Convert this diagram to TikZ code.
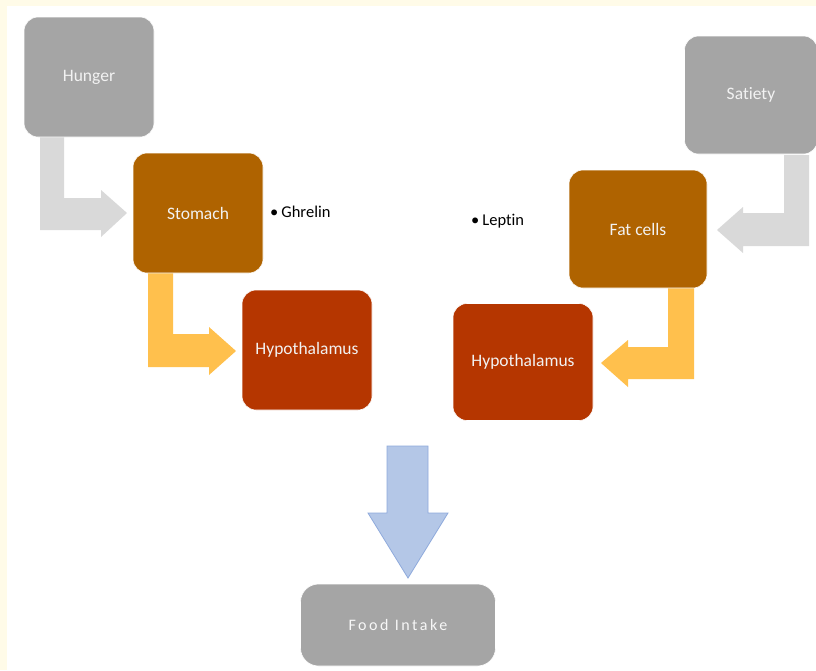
\documentclass[tikz,border=0pt]{standalone}
\usepackage{fontspec}
\setmainfont{Carlito}[Ligatures=NoCommon]
\usetikzlibrary{calc}
\definecolor{cream}{RGB}{255,251,232}
\definecolor{boxgray}{RGB}{165,165,165}
\definecolor{boxbrown}{RGB}{175,99,0}
\definecolor{boxrust}{RGB}{181,54,0}
\definecolor{arrgray}{RGB}{217,217,217}
\definecolor{arryellow}{RGB}{255,192,77}
\definecolor{arrblue}{RGB}{180,199,231}
\definecolor{arrblueedge}{RGB}{143,170,220}
\tikzset{
  stagebox/.style={rectangle, rounded corners=14, draw=white, line width=0.6,
    minimum width=130, minimum height=120, text=white!95!black,
    font=\fontsize{17.5}{20}\selectfont},
  hormone/.style={anchor=west, inner sep=0, text=black,
    font=\fontsize{16.5}{19}\selectfont}
}

\begin{document}
\begin{tikzpicture}[x=1pt,y=-1pt]
    \useasboundingbox (0,0) rectangle (816,670);
    \fill[cream] (0,0) rectangle (816,670);
    \fill[white] (7,6) rectangle (816,670);

    \fill[arrgray] (40,137) -- (64,137) -- (64,198) -- (101,198) -- (101,190) -- (127,213)
        -- (101,237) -- (101,230) -- (40,230) -- cycle;
    \fill[arryellow] (148,273) -- (173,273) -- (173,334) -- (209,334) -- (209,327) -- (236,351)
        -- (209,375) -- (209,367) -- (148,367) -- cycle;
    \fill[arrgray] (784,155) -- (809,155) -- (809,246) -- (743,246) -- (743,253) -- (717,230)
        -- (743,207) -- (743,213) -- (784,213) -- cycle;
    \fill[arryellow] (668,288) -- (694,288) -- (694,379) -- (628,379) -- (628,387) -- (601,363)
        -- (628,340) -- (628,347) -- (668,347) -- cycle;
    \filldraw[fill=arrblue, draw=arrblueedge, line width=0.8] (387,446) -- (428,446) -- (428,513)
        -- (448,513) -- (408,578) -- (368,513) -- (387,513) -- cycle;

    \node[stagebox, fill=boxgray] (hunger) at (89,77) {Hunger};
    \node[stagebox, fill=boxbrown] (stomach) at (198,213) {Stomach};
    \node[stagebox, fill=boxrust] (hypoleft) at (307,350) {Hypothalamus};
    \node[stagebox, fill=boxgray, minimum width=133, minimum height=118] (satiety) at (751,95) {Satiety};
    \node[stagebox, fill=boxbrown, minimum width=138, minimum height=118] (fatcells) at (638,229) {Fat cells};
    \node[stagebox, fill=boxrust, minimum width=140, minimum height=117] (hyporight) at (523,362) {Hypothalamus};
    \node[stagebox, fill=boxgray, rounded corners=18, minimum width=195, minimum height=82,
        text=white!97!black, font=\fontsize{16}{19}\selectfont\addfontfeature{LetterSpace=16}]
        (food) at (398,625) {Food Intake};

    \node[hormone] (ghrelin) at (270,212) {•\hspace{3pt}Ghrelin};
    \node[hormone] (leptin) at (471,221) {•\hspace{3pt}Leptin};
\end{tikzpicture}
\end{document}
